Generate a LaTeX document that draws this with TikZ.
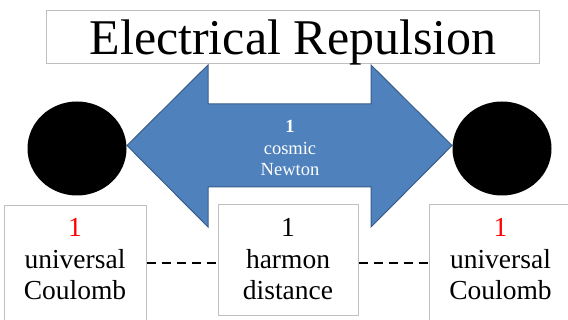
\documentclass[tikz,border=0pt]{standalone}
\usepackage{fontspec}
\setmainfont{Liberation Serif}
\usetikzlibrary{shapes.geometric}
\definecolor{arrowfill}{RGB}{79,129,189}
\definecolor{arrowline}{RGB}{56,93,138}
\definecolor{framegray}{RGB}{191,191,191}
\definecolor{numred}{RGB}{255,0,0}
\begin{document}
\begin{tikzpicture}[x=1pt,y=-1pt,
  frame/.style={draw=framegray, line width=1pt, fill=white, inner sep=0pt},
  ball/.style={ellipse, fill=black, inner sep=0pt, minimum width=99pt, minimum height=94pt},
  boxtext/.style={align=center, font=\fontsize{27.5}{31.5}\selectfont, anchor=base, inner sep=0pt},
  arrowtext/.style={align=center, text=white, font=\fontsize{18.5}{21.5}\selectfont, anchor=base, inner sep=0pt},
  dashconn/.style={line width=1.5pt, dash pattern=on 9pt off 6pt}]
\useasboundingbox (0,0) rectangle (568,320);
% title
\node[frame, minimum width=493pt, minimum height=53pt] (title) at (292.5,37.5) {};
\node[anchor=base, inner sep=0pt, font=\fontsize{50}{50}\selectfont] (titletext) at (293,55) {Electrical Repulsion};
% double arrow
\draw[fill=arrowfill, draw=arrowline, line width=1pt]
  (127,145.5) -- (208,65) -- (208,104) -- (371,104) -- (371,65) -- (452,145.5)
  -- (371,227) -- (371,187) -- (208,187) -- (208,227) -- cycle;
\node[arrowtext] (force) at (290,176) {\textbf{1}\\cosmic\\Newton};
% balls
\node[ball] (lball) at (77,148.5) {};
\node[ball] (rball) at (502,148.5) {};
% bottom boxes
\node[frame, minimum width=142pt, minimum height=116pt] (lbox) at (75,264) {};
\node[frame, minimum width=140pt, minimum height=111pt] (mbox) at (288,260.5) {};
\node[frame, minimum width=141pt, minimum height=116pt] (rbox) at (499.5,263) {};
\node[boxtext] (ltext) at (75,300) {\textcolor{numred}{1}\\universal\\Coulomb};
\node[boxtext] (mtext) at (288,300) {1\\harmon\\distance};
\node[boxtext] (rtext) at (500.5,300) {\textcolor{numred}{1}\\universal\\Coulomb};
% dashed connectors
\draw[dashconn] (lbox.east |- 0,263) -- (mbox.west |- 0,263);
\draw[dashconn] (mbox.east |- 0,263) -- (rbox.west |- 0,263);
\end{tikzpicture}
\end{document}
